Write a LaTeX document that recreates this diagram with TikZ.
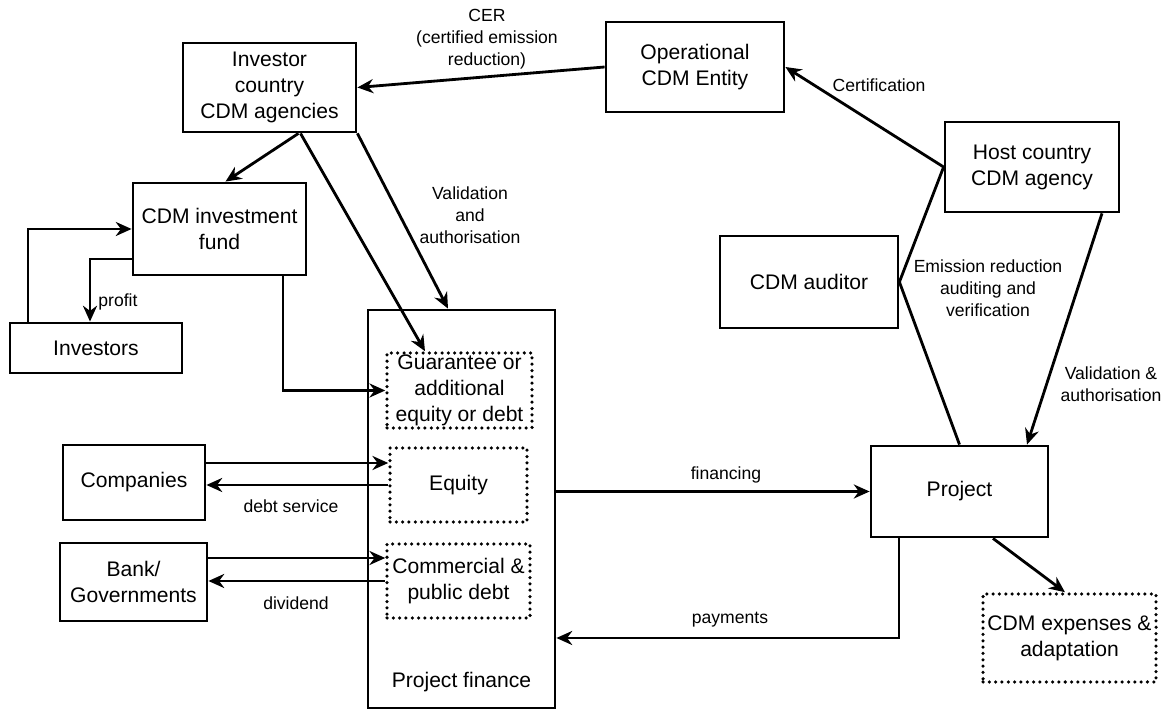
\documentclass[tikz,border=0pt]{standalone}
\usepackage{fontspec}
\setmainfont{Liberation Sans}
\usetikzlibrary{arrows.meta}

\begin{document}
\begin{tikzpicture}[
  every node/.style={align=center},
  box/.style={draw,line width=1.6pt,inner sep=2pt,font=\fontsize{12}{14.8}\selectfont},
  dotbox/.style={draw,line width=2pt,dash pattern=on 0pt off 3.6pt,line cap=round,inner sep=1pt,font=\fontsize{12}{14.8}\selectfont},
  lbl/.style={font=\fontsize{10}{12.5}\selectfont,inner sep=1pt},
  flow/.style={-{Stealth[length=9pt,width=8pt]},line width=1.6pt},
  link/.style={line width=1.6pt},
]
\useasboundingbox (0,0) rectangle (23.46,14.26);

% ---- Agencies and entities (top)
\node[box,minimum width=3.46cm,minimum height=1.78cm] (ICA) at (5.39,12.51) {Investor\\country\\CDM agencies};
\node[box,minimum width=3.56cm,minimum height=1.80cm] (OCE) at (13.90,12.92) {Operational\\CDM Entity};
\node[box,minimum width=3.48cm,minimum height=1.80cm] (HCA) at (20.64,10.92) {Host country\\CDM agency};
\node[box,minimum width=3.56cm,minimum height=1.84cm] (AUD) at (16.18,8.62) {CDM auditor};

% ---- Investors side (left)
\node[box,minimum width=3.46cm,minimum height=1.84cm] (FUND) at (4.39,9.68) {CDM investment\\fund};
\node[box,minimum width=3.44cm,minimum height=1.00cm] (INV) at (1.92,7.30) {Investors};
\node[box,minimum width=2.84cm,minimum height=1.50cm] (COMP) at (2.68,4.61) {Companies};
\node[box,minimum width=2.94cm,minimum height=1.56cm] (BANK) at (2.67,2.62) {Bank/\\Governments};

% ---- Project finance (centre) with its parts
\node[box,minimum width=3.74cm,minimum height=7.96cm] (PF) at (9.23,4.08) {};
\node[font=\fontsize{12}{14.8}\selectfont] (PFT) at (9.23,0.62) {Project finance};
\node[dotbox,minimum width=2.90cm,minimum height=1.50cm] (GUA) at (9.19,6.45) {Guarantee or\\additional\\equity or debt};
\node[dotbox,minimum width=2.74cm,minimum height=1.48cm] (EQ) at (9.17,4.56) {Equity};
\node[dotbox,minimum width=2.86cm,minimum height=1.48cm] (DEBT) at (9.17,2.64) {Commercial \&\\public debt};

% ---- Project (right)
\node[box,minimum width=3.54cm,minimum height=1.82cm] (PRJ) at (19.19,4.43) {Project};
\node[dotbox,minimum width=3.46cm,minimum height=1.76cm] (EXP) at (21.39,1.50) {CDM expenses \&\\adaptation};

% ---- Top connectors
\draw[flow] (OCE.west) -- (ICA.east);
\draw[flow] (HCA.west) -- (OCE.east);
\draw[link] (HCA.west) -- (AUD.east) -- (PRJ.north);
\draw[flow] ([xshift=1.4cm]HCA.south) -- ([xshift=1.35cm]PRJ.north);

% ---- Investor country agencies -> fund and project finance
\draw[flow] ([xshift=0.58cm]ICA.south) -- ([xshift=0.12cm]FUND.north);
\draw[flow] ([xshift=0.62cm]ICA.south) -- ([xshift=-0.69cm]GUA.north);
\draw[flow] (ICA.south east) -- ([xshift=-0.27cm]PF.north);

% ---- Fund loop with investors
\draw[flow] ([xshift=-1.36cm]INV.north) |- (FUND.west);
\draw[flow] ([yshift=-0.6cm]FUND.west) -| ([xshift=-0.12cm]INV.north);
\draw[flow] ([xshift=1.27cm]FUND.south) |- (GUA.west);

% ---- Companies and banks
\draw[flow] ([yshift=0.39cm]COMP.east) -- ([yshift=0.39cm]COMP.east -| EQ.west);
\draw[flow] (EQ.west) -- (EQ.west -| COMP.east);
\draw[flow] ([yshift=0.48cm]BANK.east) -- ([yshift=0.48cm]BANK.east -| DEBT.west);
\draw[flow] (DEBT.west) -- (DEBT.west -| BANK.east);

% ---- Project finance <-> project
\draw[flow] (PRJ.west -| PF.east) -- (PRJ.west);
\draw[flow] ([xshift=-1.21cm]PRJ.south) |- ([yshift=-2.58cm]PF.east);
\draw[flow] ([xshift=0.67cm]PRJ.south) -- ([xshift=-0.09cm]EXP.north);

% ---- Connector labels
\node[lbl] (L1) at (9.74,13.48) {CER\\(certified emission\\reduction)};
\node[lbl] (L2) at (9.40,9.96) {Validation\\and\\authorisation};
\node[lbl] (L3) at (2.36,8.22) {profit};
\node[lbl] (L4) at (5.82,4.14) {debt service};
\node[lbl] (L5) at (5.92,2.20) {dividend};
\node[lbl] (L6) at (14.52,4.76) {financing};
\node[lbl] (L7) at (14.60,1.86) {payments};
\node[lbl] (L8) at (17.58,12.56) {Certification};
\node[lbl] (L9) at (19.76,8.50) {Emission reduction\\auditing and\\verification};
\node[lbl] (L10) at (22.22,6.58) {Validation \&\\authorisation};

\end{tikzpicture}
\end{document}
